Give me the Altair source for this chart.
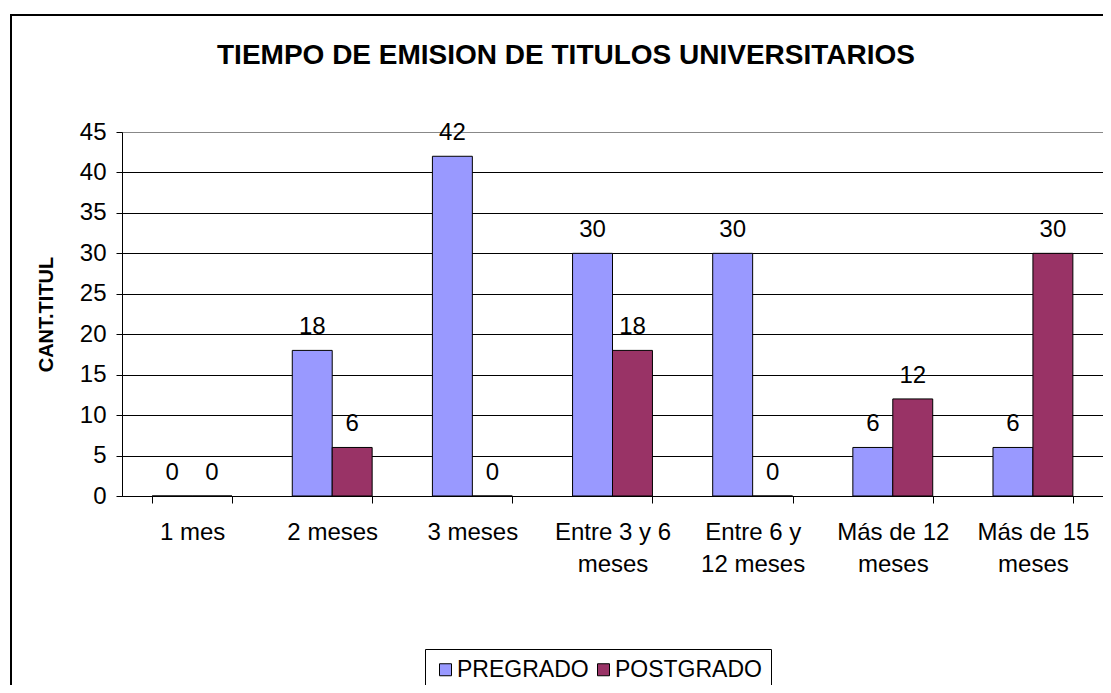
import altair as alt
import pandas as pd

categories = ["1 mes", "2 meses", "3 meses", "Entre 3 y 6\nmeses",
              "Entre 6 y\n12 meses", "Más de 12\nmeses", "Más de 15\nmeses"]
series = ["PREGRADO", "POSTGRADO"]
pregrado = [0, 18, 42, 30, 30, 6, 6]
postgrado = [0, 6, 0, 18, 0, 12, 30]
colors = ["#9999FF", "#993366"]
y_ticks = [0, 5, 10, 15, 20, 25, 30, 35, 40, 45]
title_text = "TIEMPO DE EMISION DE TITULOS UNIVERSITARIOS"
y_title = "CANT.TITUL"

rows = []
for c, p, q in zip(categories, pregrado, postgrado):
    rows.append({"cat": c, "serie": "PREGRADO", "val": p})
    rows.append({"cat": c, "serie": "POSTGRADO", "val": q})
df = pd.DataFrame(rows)

FONT = "Liberation Sans"

x_enc = alt.X(
    "cat:N", sort=categories, title=None,
    scale=alt.Scale(paddingInner=0.43, paddingOuter=0.215),
    axis=alt.Axis(labelAngle=0, labelExpr="split(datum.label, '\\n')",
                  tickBand="extent", tickSize=7, labelPadding=17,
                  labelLineHeight=32, labelFontSize=24, labelFont=FONT,
                  labelColor="black", domainColor="black", tickColor="black",
                  grid=False),
)
xoff_enc = alt.XOffset("serie:N", sort=series,
                       scale=alt.Scale(paddingInner=0, paddingOuter=0))
y_enc = alt.Y(
    "val:Q",
    scale=alt.Scale(domain=[0, 45], nice=False),
    axis=alt.Axis(values=y_ticks, title=y_title, titleX=-76, titleY=182,
                  titleAngle=270, titleAlign="center", titleBaseline="middle",
                  titleFontSize=20, titleFontWeight="bold", titleFont=FONT,
                  titleColor="black",
                  labelFontSize=24, labelFont=FONT, labelColor="black",
                  labelPadding=10, tickSize=6, tickColor="black",
                  domainColor="black",
                  gridColor={"condition": {"test": "datum.value === 45", "value": "#888888"},
                             "value": "black"},
                  gridWidth=1),
)
color_enc = alt.Color(
    "serie:N", sort=series, title=None,
    scale=alt.Scale(domain=series, range=colors),
    legend=alt.Legend(orient="none", legendX=303, legendY=517,
                      direction="horizontal", symbolType="square",
                      symbolSize=144, symbolStrokeColor="black",
                      symbolStrokeWidth=1, labelFontSize=23, labelFont=FONT,
                      labelColor="black", labelOffset=0, columnPadding=3,
                      padding=9, strokeColor="black"),
)

bars = alt.Chart(df).mark_bar(stroke="black", strokeWidth=1).encode(
    x=x_enc, xOffset=xoff_enc, y=y_enc, color=color_enc
)
labels = alt.Chart(df).mark_text(dy=-16, baseline="alphabetic", fontSize=24,
                                  font=FONT, color="black").encode(
    x=alt.X("cat:N", sort=categories), xOffset=alt.XOffset("serie:N", sort=series),
    y=alt.Y("val:Q"), text=alt.Text("val:Q")
)

dummy = alt.Data(values=[{"a": 1}])
frame = alt.Chart(dummy).mark_rect(fillOpacity=0, stroke="black", strokeWidth=2).encode(
    x=alt.value(-111), x2=alt.value(1200), y=alt.value(-117), y2=alt.value(700)
)
title = alt.Chart(dummy).mark_text(fontSize=28, fontWeight="bold", font=FONT,
                                   align="center", baseline="alphabetic",
                                   color="black").encode(
    x=alt.value(444), y=alt.value(-68), text=alt.value(title_text)
)

chart = alt.layer(frame, bars, labels, title).properties(
    width=981, height=364,
    autosize=alt.AutoSizeParams(type="none"),
    padding={"left": 114, "top": 124, "right": 0, "bottom": 189},
    background="white",
).configure(font=FONT).configure_view(stroke="#888888")

chart.save("out.html", embed_options={"renderer": "svg", "actions": False})
